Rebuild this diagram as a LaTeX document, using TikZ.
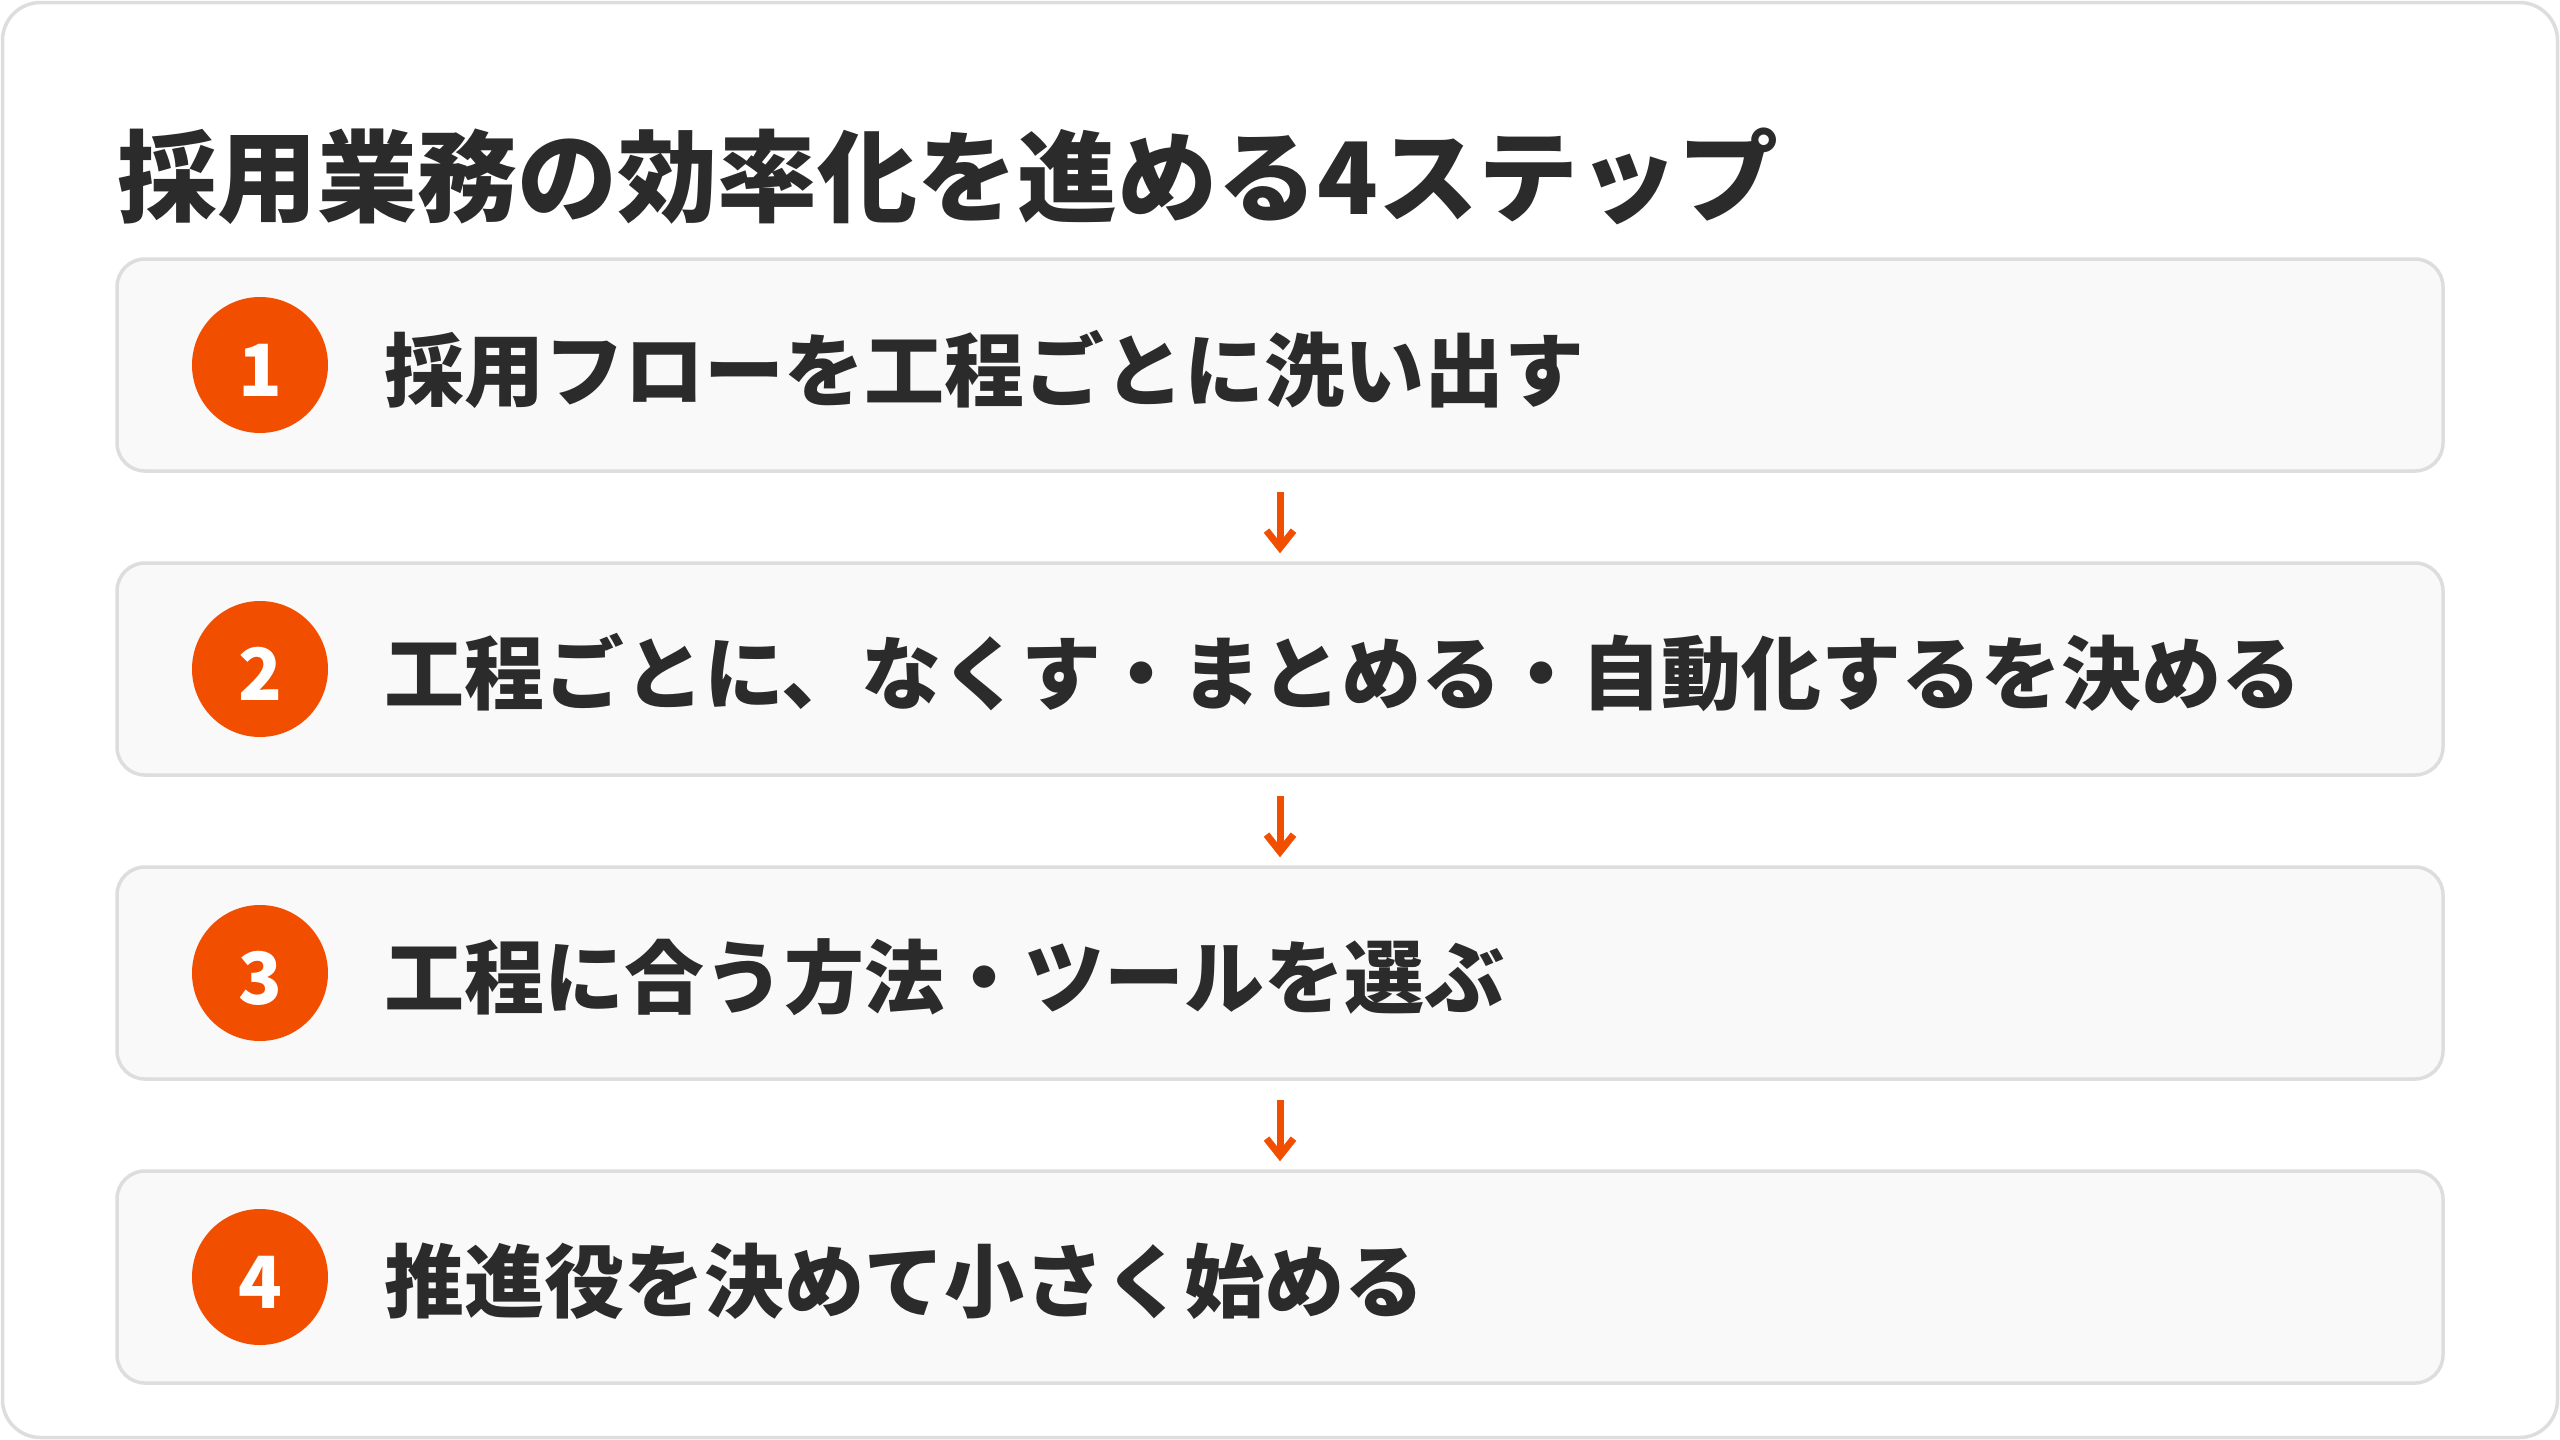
\documentclass[tikz,border=0pt]{standalone}
\usepackage{fontspec}
\usepackage{tikz}
\usetikzlibrary{arrows.meta}
\usetikzlibrary{shapes,positioning}
\newfontfamily\jpfont{Noto Sans CJK JP}
\definecolor{stepOrange}{HTML}{F24E00}
\definecolor{stepInk}{HTML}{2B2B2B}
\definecolor{stepLine}{HTML}{DDDDDD}
\definecolor{stepFill}{HTML}{F9F9F9}

\begin{document}
\begin{tikzpicture}[x=1pt, y=-1pt]
            \tikzstyle{stepbox} = [draw=stepLine, fill=stepFill, line width=3.5pt, rounded corners=28pt, minimum width=2326pt, minimum height=212pt, inner sep=0pt]
            \tikzstyle{stepnum} = [circle, fill=stepOrange, minimum size=136pt, inner sep=0pt, text=white, text height=63pt, text depth=0pt, font=\jpfont\bfseries\fontsize{72}{80}\selectfont]
            \tikzstyle{steptext} = [anchor=west, inner sep=0pt, text=stepInk, font=\jpfont\bfseries\fontsize{80}{90}\selectfont]
            \tikzstyle{arrow} = [draw=stepOrange, line width=7pt, -{Straight Barb[length=17pt, width=27pt]}, shorten <=19pt, shorten >=8pt]
            
            \useasboundingbox (0, 0) rectangle (2560, 1440);
            \draw [stepLine, fill=white, line width=3.5pt, rounded corners=38pt] (2.5, 2.5) rectangle (2557.5, 1437.5);
            
            \node[anchor=west, inner sep=0pt, text=stepInk, font=\jpfont\bfseries\fontsize{100}{110}\selectfont] (title) at (117, 176) {採用業務の効率化を進める4ステップ};
            
            \node[stepbox] (s1) at (1280, 365) {};
            \node[stepbox] (s2) at (1280, 669) {};
            \node[stepbox] (s3) at (1280, 973) {};
            \node[stepbox] (s4) at (1280, 1277) {};
            
            \node[stepnum] (n1) at (260, 365) {1};
            \node[stepnum] (n2) at (260, 669) {2};
            \node[stepnum] (n3) at (260, 973) {3};
            \node[stepnum] (n4) at (260, 1277) {4};
            
            \node[steptext] (t1) at (384, 369) {採用フローを工程ごとに洗い出す};
            \node[steptext] (t2) at (384, 673) {工程ごとに、なくす・まとめる・自動化するを決める};
            \node[steptext] (t3) at (384, 977) {工程に合う方法・ツールを選ぶ};
            \node[steptext] (t4) at (384, 1281) {推進役を決めて小さく始める};
            
            \draw [arrow] (s1.south) -- (s2.north);
            \draw [arrow] (s2.south) -- (s3.north);
            \draw [arrow] (s3.south) -- (s4.north);
        \end{tikzpicture}
\end{document}
